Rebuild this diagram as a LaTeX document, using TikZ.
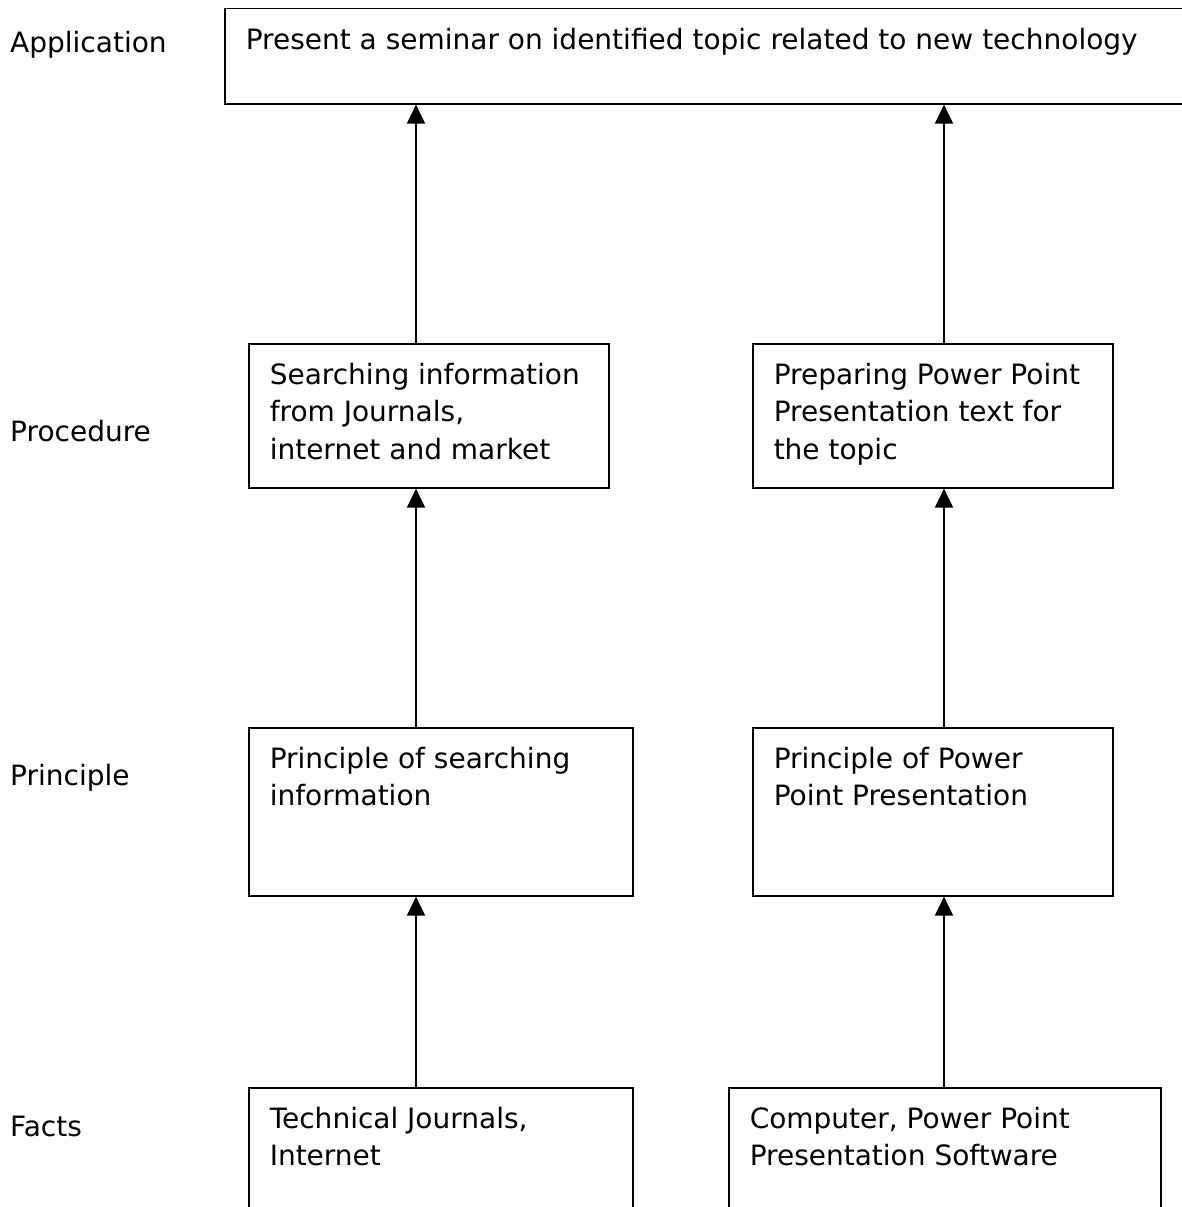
\documentclass[tikz,border=0pt]{standalone}
\usepackage{fontspec}
\setmainfont{DejaVu Sans}
\usetikzlibrary{arrows.meta}
\newcommand{\bx}[3]{\parbox[c][#2][t]{#1}{\setlength{\parindent}{0pt}\vspace*{19pt}\raggedright #3}}
\begin{document}
\begin{tikzpicture}[x=1pt,y=-1pt,
  font=\fontsize{28}{37.5}\selectfont,
  box/.style={draw, line width=1.5pt, inner xsep=21pt, inner ysep=0pt, anchor=north west},
  lab/.style={anchor=west, inner sep=0pt},
  arr/.style={line width=1.5pt, -{Triangle[length=19pt,width=18pt]}}]
\useasboundingbox (0,0) rectangle (1182,1207);
\clip (0,0) rectangle (1182,1207);
\node[box] (app) at (224,8) {\bx{1000pt}{95pt}{Present a seminar on identified topic related to new technology}};
\node[box] (p1) at (248,343) {\bx{318pt}{144pt}{Searching information\\from Journals,\\internet and market}};
\node[box] (p2) at (752,343) {\bx{318pt}{144pt}{Preparing Power Point\\Presentation text for\\the topic}};
\node[box] (q1) at (248,727) {\bx{342pt}{168pt}{Principle of searching\\information}};
\node[box] (q2) at (752,727) {\bx{318pt}{168pt}{Principle of Power\\Point Presentation}};
\node[box] (f1) at (248,1087) {\bx{342pt}{200pt}{Technical Journals,\\Internet}};
\node[box] (f2) at (728,1087) {\bx{390pt}{200pt}{Computer, Power Point\\Presentation Software}};
\node[lab] (l1) at (10,45) {Application};
\node[lab] (l2) at (10,431) {Procedure};
\node[lab] (l3) at (10,778) {Principle};
\node[lab] (l4) at (10,1126) {Facts};
\draw[arr] (f1.north -| 416,0) -- (q1.south -| 416,0);
\draw[arr] (q1.north -| 416,0) -- (p1.south -| 416,0);
\draw[arr] (p1.north -| 416,0) -- (app.south -| 416,0);
\draw[arr] (f2.north -| 944,0) -- (q2.south -| 944,0);
\draw[arr] (q2.north -| 944,0) -- (p2.south -| 944,0);
\draw[arr] (p2.north -| 944,0) -- (app.south -| 944,0);
\end{tikzpicture}
\end{document}
